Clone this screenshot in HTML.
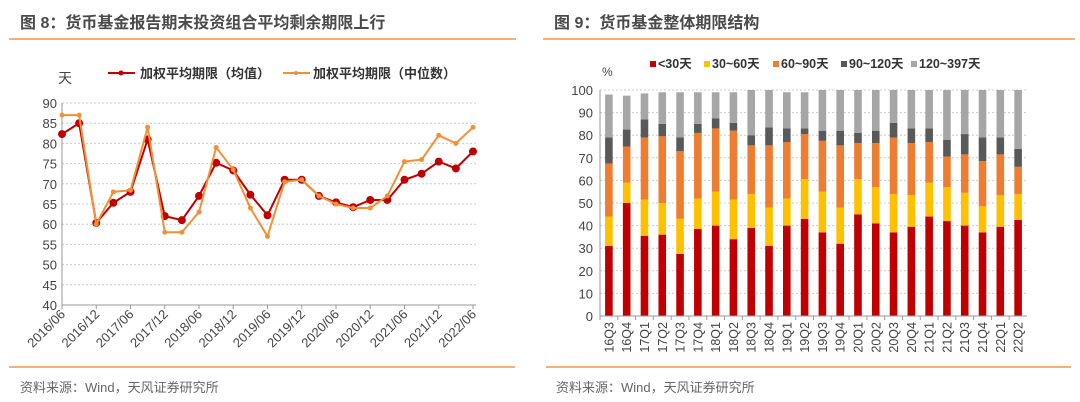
<!DOCTYPE html>
<html><head><meta charset="utf-8">
<style>
body{margin:0;width:1080px;height:402px;background:#fff;overflow:hidden;font-family:"Liberation Sans","Noto Sans CJK SC",sans-serif;}
.t{position:absolute;font-size:16px;font-weight:bold;color:#4a4a4a;top:9px}
.ln{position:absolute;height:2px;background:#f4b27a}
.src{position:absolute;top:377px;font-size:13px;color:#666}
svg{position:absolute;left:0;top:0}
</style></head><body>
<div class="t" style="left:20px">图 8：货币基金报告期末投资组合平均剩余期限上行</div>
<div class="t" style="left:554px">图 9：货币基金整体期限结构</div>
<div class="ln" style="left:9px;width:507px;top:38px"></div>
<div class="ln" style="left:543px;width:532px;top:38px"></div>
<div class="ln" style="left:9px;width:506px;top:366px"></div>
<div class="ln" style="left:546px;width:525px;top:366px"></div>
<div class="src" style="left:20px">资料来源：Wind，天风证券研究所</div>
<div class="src" style="left:556px">资料来源：Wind，天风证券研究所</div>
<svg id="c" width="1080" height="402"></svg>
<script>
const lineCats=["2016/06","2016/09","2016/12","2017/03","2017/06","2017/09","2017/12","2018/03","2018/06","2018/09","2018/12","2019/03","2019/06","2019/09","2019/12","2020/03","2020/06","2020/09","2020/12","2021/03","2021/06","2021/09","2021/12","2022/03","2022/06"];
const meanVals=[82.3,85,60.3,65.3,68,81,62,61,67,75.2,73.3,67.3,62.2,71,71,67,65.4,64.2,66,66,71,72.5,75.5,73.8,78];
const medianVals=[87,87,60,68,68.4,84,58,58,63,79,73.5,64,57,70.5,71,67,65,64,64,67,75.5,76,82,80,84];
const lineTicks=[40,45,50,55,60,65,70,75,80,85,90];
const barCats=["16Q3","16Q4","17Q1","17Q2","17Q3","17Q4","18Q1","18Q2","18Q3","18Q4","19Q1","19Q2","19Q3","19Q4","20Q1","20Q2","20Q3","20Q4","21Q1","21Q2","21Q3","21Q4","22Q1","22Q2"];
const lt30=[31,50,35.5,36,27.5,38.5,40,34,39,31,40,43,37,32,45,41,37,39.5,44,42,40,37,39.5,42.5];
const d30_60=[13,9,16,14,15.5,13.5,15,17.5,15,17,12,17.5,18,16,15.5,16,17,14,15,15,14.5,11.5,14,11.5];
const d60_90=[23.5,16,27.5,29.5,30,29,28,30.5,21.5,27.5,25,20,22.5,27.5,16,19.5,25,23,18,13.5,17,20,18,12];
const d90_120=[11.5,7.5,8,5.5,6,4,4.5,3.5,4.5,8,6,2.5,4.5,6.5,4.5,5.5,6.5,6.5,6,7.5,9,10.5,7.5,8];
const d120_397=[19,15,11.5,14,20,14,11.5,13.5,20,16.5,16,16,18,18,19,18,14.5,17,17,22,19.5,21,21,26];
const barTicks=[0,10,20,30,40,50,60,70,80,90,100];
const seriesNames=["<30天","30~60天","60~90天","90~120天","120~397天"];

const svg=document.getElementById('c');const NS='http://www.w3.org/2000/svg';
function mk(t,a,txt){const e=document.createElementNS(NS,t);for(const k in a)e.setAttribute(k,a[k]);if(txt!=null)e.textContent=txt;svg.appendChild(e);return e;}
// left chart
const lx0=62,lx1=473,ly0=305,ly1=103;
const lxs=i=>lx0+(lx1-lx0)*i/(lineCats.length-1);
const lys=v=>ly0-(v-40)/50*(ly0-ly1);
lineTicks.forEach(v=>{
 if(v>40){const g=mk('line',{x1:lx0,x2:478,y1:lys(v),y2:lys(v),stroke:'#ccc','stroke-dasharray':'2,2'});
 
 }
 const t=mk('text',{x:lx0-5,y:lys(v)+5,'text-anchor':'end','font-size':13,fill:'#444'},v);
 
 
});
mk('line',{x1:lx0,x2:lx0,y1:ly1,y2:ly0,stroke:'#999'});
mk('line',{x1:lx0,x2:476,y1:ly0,y2:ly0,stroke:'#999'});
lineCats.forEach((c,i)=>{
 if(i%2==0){const x=lxs(i);mk('line',{x1:x,x2:x,y1:ly0,y2:ly0+4,stroke:'#999'});
 const t=mk('text',{x:x+4,y:ly0+10,'text-anchor':'end','font-size':13,fill:'#444',transform:`rotate(-45 ${x+4} ${ly0+10})`},c);
 
 }
});
function series(vals,col,r,name){
 const p=mk('polyline',{points:vals.map((v,i)=>lxs(i)+','+lys(v)).join(' '),fill:'none',stroke:col,'stroke-width':2});
 
 
 vals.forEach((v,i)=>{const c=mk('circle',{cx:lxs(i),cy:lys(v),r:r,fill:col});
 
 });
}
series(meanVals,'#c00000',4,'mean');
series(medianVals,'#f0913a',2.5,'median');
mk('text',{x:58,y:83,'font-size':14,fill:'#444'},'天');
mk('line',{x1:108,x2:135,y1:73,y2:73,stroke:'#c00000','stroke-width':2});mk('circle',{cx:121,cy:73,r:2.5,fill:'#c00000'});
const lg1=mk('text',{x:140,y:78,'font-size':13,'font-weight':'bold',fill:'#333'},'加权平均期限（均值）');


mk('line',{x1:283,x2:310,y1:73,y2:73,stroke:'#f0913a','stroke-width':2});mk('circle',{cx:296,cy:73,r:2,fill:'#f0913a'});
const lg2=mk('text',{x:313,y:78,'font-size':13,'font-weight':'bold',fill:'#333'},'加权平均期限（中位数）');


// right chart
const bx0=600,bx1=1027,by0=316,by1=90;
const bys=v=>by0-v/100*(by0-by1);
const bstep=(bx1-bx0)/barCats.length;
const bxs=i=>bx0+bstep*(i+0.5);
barTicks.forEach(v=>{
 if(v>0){const g=mk('line',{x1:bx0,x2:bx1,y1:bys(v),y2:bys(v),stroke:'#ccc','stroke-dasharray':'2,2'});
 
 }
 const t=mk('text',{x:bx0-7,y:bys(v)+5,'text-anchor':'end','font-size':13,fill:'#444'},v);
 
 
});
const cols=['#c00000','#ffc000','#ed7d31','#595959','#a6a6a6'];
const segs=[lt30,d30_60,d60_90,d90_120,d120_397];
barCats.forEach((c,i)=>{
 let acc=0;const x=bxs(i);
 segs.forEach((s,k)=>{const v=s[i];
  const r=mk('rect',{x:x-3.8,y:bys(acc+v),width:7.6,height:bys(acc)-bys(acc+v),fill:cols[k]});
  
  
  acc+=v;});
 const t=mk('text',{x:x+4.5,y:by0+6,'text-anchor':'end','font-size':12.5,fill:'#444',transform:`rotate(-90 ${x+4.5} ${by0+6})`},c);
 
 
 mk('line',{x1:bx0+bstep*i,x2:bx0+bstep*i,y1:by0,y2:by0+4,stroke:'#999'});
});
mk('line',{x1:bx0,x2:bx0,y1:by1,y2:by0,stroke:'#999'});
mk('line',{x1:bx0,x2:bx1,y1:by0,y2:by0,stroke:'#999'});
mk('text',{x:602,y:76,'font-size':12,fill:'#444'},'%');
const lgx=[650,704,773,841,911];
seriesNames.forEach((n,k)=>{
 mk('rect',{x:lgx[k],y:61,width:6,height:6,fill:cols[k]});
 const t=mk('text',{x:lgx[k]+8,y:68,'font-size':12.5,'font-weight':'bold',fill:'#333'},n);
 
 
});
</script>
</body></html>
